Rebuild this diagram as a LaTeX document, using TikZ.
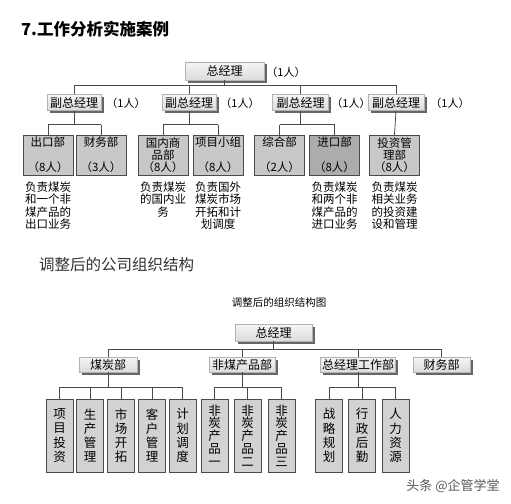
\documentclass[tikz,border=0pt]{standalone}
\usepackage{fontspec}
\setmainfont{Noto Sans CJK SC}
\usetikzlibrary{shadows}
\definecolor{lnc}{HTML}{4A4A4A}
\definecolor{shc}{HTML}{666666}
\tikzset{
  head/.style={draw=gray!60, top color=gray!8, bottom color=gray!28, inner sep=0pt,
    drop shadow={shadow xshift=2.5pt, shadow yshift=-2.5pt, fill=shc, opacity=1},
    font=\fontsize{12}{13}\selectfont},
  dept/.style={draw=lnc, fill=gray!43, inner sep=0pt, minimum width=50pt, minimum height=40pt,
    align=center, font=\fontsize{11.5}{12}\selectfont},
  desc/.style={anchor=north, align=center, inner sep=0pt, font=\fontsize{11.5}{12.4}\selectfont},
  cnt/.style={inner sep=0pt, font=\fontsize{11}{13}\selectfont},
  tall/.style={draw=lnc, fill=gray!35, inner sep=0pt, minimum width=27pt, minimum height=73pt,
    align=center},
  conn/.style={draw=lnc, line width=0.8pt}
}
\begin{document}
\begin{tikzpicture}[x=1pt,y=-1pt]
\useasboundingbox[fill=white] (0,0) rectangle (511,503);
% title
\node[anchor=west, inner sep=0pt, font=\fontsize{16.5}{18}\bfseries] (title) at (21,29) {7.工作分析实施案例};

% ===== top chart =====
\node[head, minimum width=79pt, minimum height=18pt] (zjl1) at (224.5,71) {总经理};
\node[cnt] (n0) at (286,72) {（1人）};
\node[head, minimum width=54pt, minimum height=16pt] (fz1) at (74,102.5) {副总经理};
\node[head, minimum width=54pt, minimum height=16pt] (fz2) at (189,102.5) {副总经理};
\node[head, minimum width=56pt, minimum height=16pt] (fz3) at (300.5,102.5) {副总经理};
\node[head, minimum width=56pt, minimum height=16pt] (fz4) at (396,102.5) {副总经理};
\node[cnt] (n1) at (126,103) {（1人）};
\node[cnt] (n2) at (240,103) {（1人）};
\node[cnt] (n3) at (351,103) {（1人）};
\node[cnt] (n4) at (450,103) {（1人）};

\node[dept] (ck) at (48,155) {出口部\\[13pt]（8人）};
\node[dept] (cw1) at (101,155) {财务部\\[13pt]（3人）};
\node[dept] (gn) at (163,155) {国内商\\品部\\（8人）};
\node[dept] (xm) at (218,155) {项目小组\\[13pt]（8人）};
\node[dept] (zh) at (279.5,155) {综合部\\[13pt]（2人）};
\node[dept, fill=gray!65] (jk) at (334.5,155) {进口部\\[13pt]（8人）};
\node[dept] (tz) at (394.5,155) {投资管\\理部\\（8人）};

\node[desc] (d1) at (48,181.5) {负责煤炭\\和一个非\\煤产品的\\出口业务};
\node[desc] (d2) at (163,181.5) {负责煤炭\\的国内业\\务};
\node[desc] (d3) at (218,181.5) {负责国外\\煤炭市场\\开拓和计\\划调度};
\node[desc] (d4) at (334.5,181.5) {负责煤炭\\和两个非\\煤产品的\\进口业务};
\node[desc] (d5) at (394.5,181.5) {负责煤炭\\相关业务\\的投资建\\设和管理};

\coordinate (ha) at (0,85);
\coordinate (hb) at (0,124.5);
\draw[conn] (zjl1.south) -- (zjl1.south |- ha);
\draw[conn] (fz1.north |- ha) -- (fz4.north |- ha);
\foreach \n in {fz1,fz2,fz3,fz4} \draw[conn] (\n.north) -- (\n.north |- ha);
\draw[conn] (fz1.south) -- (fz1.south |- hb);
\draw[conn] (ck.north |- hb) -- (cw1.north |- hb);
\draw[conn] (fz2.south) -- (fz2.south |- hb);
\draw[conn] (gn.north |- hb) -- (xm.north |- hb);
\draw[conn] (fz3.south) -- (fz3.south |- hb);
\draw[conn] (zh.north |- hb) -- (jk.north |- hb);
\foreach \n in {ck,cw1,gn,xm,zh,jk} \draw[conn] (\n.north) -- (\n.north |- hb);
\draw[conn] (fz4.south) -- (tz.north);

% ===== subtitle =====
\node[anchor=west, inner sep=0pt, text=black!80, font=\fontsize{15.5}{17}\selectfont] (sub) at (39,265) {调整后的公司组织结构};
\node[inner sep=0pt, font=\fontsize{10.5}{12}\selectfont] (cap) at (279,302) {调整后的组织结构图};

% ===== bottom chart =====
\node[head, minimum width=77pt, minimum height=17pt] (zjl2) at (273.5,332.5) {总经理};
\node[head, minimum width=58pt, minimum height=15pt] (mt) at (108,364.5) {煤炭部};
\node[head, minimum width=66pt, minimum height=15pt] (fm) at (242,364.5) {非煤产品部};
\node[head, minimum width=75pt, minimum height=15pt] (zg) at (358,364.5) {总经理工作部};
\node[head, minimum width=57pt, minimum height=15pt] (cw2) at (441.5,364.5) {财务部};

\node[tall, font=\fontsize{12.5}{14.2}\selectfont] (t1) at (59.5,435.5) {项\\目\\投\\资};
\node[tall, font=\fontsize{12.5}{14.2}\selectfont] (t2) at (90,435.5) {生\\产\\管\\理};
\node[tall, font=\fontsize{12.5}{14.2}\selectfont] (t3) at (121,435.5) {市\\场\\开\\拓};
\node[tall, font=\fontsize{12.5}{14.2}\selectfont] (t4) at (152,435.5) {客\\户\\管\\理};
\node[tall, font=\fontsize{12.5}{14.2}\selectfont] (t5) at (182.5,435.5) {计\\划\\调\\度};
\node[tall, font=\fontsize{12.5}{12.8}\selectfont] (t6) at (214.5,435.5) {非\\炭\\产\\品\\一};
\node[tall, font=\fontsize{12.5}{12.8}\selectfont] (t7) at (247.5,435.5) {非\\炭\\产\\品\\二};
\node[tall, font=\fontsize{12.5}{12.8}\selectfont] (t8) at (281.5,435.5) {非\\炭\\产\\品\\三};
\node[tall, font=\fontsize{12.5}{14.2}\selectfont] (t9) at (329,435.5) {战\\略\\规\\划};
\node[tall, font=\fontsize{12.5}{14.2}\selectfont] (t10) at (362,435.5) {行\\政\\后\\勤};
\node[tall, font=\fontsize{12.5}{14.2}\selectfont] (t11) at (395.5,435.5) {人\\力\\资\\源};

\coordinate (hc) at (0,349);
\coordinate (hd) at (0,387);
\draw[conn] (zjl2.south) -- (zjl2.south |- hc);
\draw[conn] (mt.north |- hc) -- (cw2.north |- hc);
\foreach \n in {mt,fm,zg,cw2} \draw[conn] (\n.north) -- (\n.north |- hc);
\draw[conn] (mt.south) -- (mt.south |- hd);
\draw[conn] (t1.north |- hd) -- (t5.north |- hd);
\draw[conn] (fm.south) -- (fm.south |- hd);
\draw[conn] (t6.north |- hd) -- (t8.north |- hd);
\draw[conn] (zg.south) -- (zg.south |- hd);
\draw[conn] (t9.north |- hd) -- (t11.north |- hd);
\foreach \n in {t1,t2,t3,t4,t5,t6,t7,t8,t9,t10,t11} \draw[conn] (\n.north) -- (\n.north |- hd);

% watermark
\node[inner sep=0pt, text=black!65, font=\fontsize{13}{15}\selectfont] (wm) at (453,486) {头条 @企管学堂};
\end{tikzpicture}
\end{document}
